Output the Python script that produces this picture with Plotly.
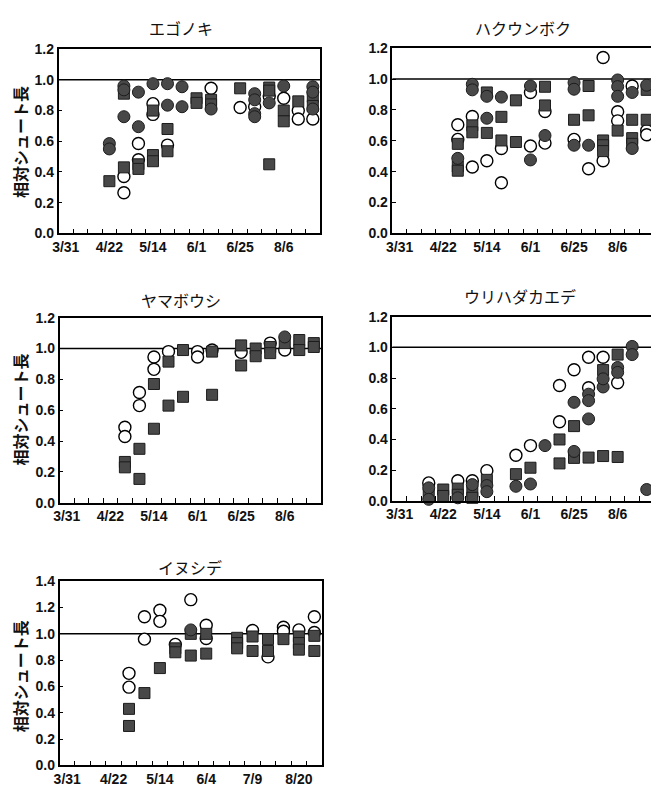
import plotly.graph_objects as go

W, H = 651, 795

# ---------------- data ----------------
Y_TITLE = "相対シュート長"

# x tick labels (positions are sampling-slot indices)
XLAB_SLOTS = [0, 3, 6, 9, 12, 15]
XLAB_A = ["3/31", "4/22", "5/14", "6/1", "6/25", "8/6"]
XLAB_B = ["3/31", "4/22", "5/14", "6/4", "7/9", "8/20"]

# エゴノキ
ego_fill_x = [3, 3, 4, 4, 4, 5, 5, 6, 7, 7, 8, 8, 10, 13, 13, 13, 13, 14, 15, 17, 17, 17]
ego_fill_y = [0.585, 0.55, 0.96, 0.935, 0.76, 0.92, 0.695, 0.975, 0.975, 0.835, 0.955, 0.825, 0.81,
              0.91, 0.87, 0.78, 0.76, 0.85, 0.96, 0.955, 0.92, 0.81]
ego_sq_x = [3, 4, 4, 5, 5, 6, 6, 6, 7, 7, 9, 9, 10, 10, 12, 14, 14, 14, 15, 15, 16, 17, 17]
ego_sq_y = [0.34, 0.91, 0.43, 0.45, 0.42, 0.80, 0.51, 0.47, 0.68, 0.535, 0.88, 0.85, 0.87, 0.84,
            0.945, 0.95, 0.93, 0.45, 0.80, 0.73, 0.86, 0.89, 0.83]
ego_open_x = [4, 4, 5, 5, 6, 6, 7, 10, 12, 13, 14, 15, 16, 16, 17]
ego_open_y = [0.37, 0.265, 0.585, 0.48, 0.845, 0.775, 0.575, 0.945, 0.82, 0.825, 0.895, 0.88,
              0.80, 0.745, 0.745]

# ハクウンボク
hak_fill_x = [4, 5, 5, 6, 6, 7, 9, 9, 10, 12, 12, 12, 13, 15, 15, 15, 16, 16, 17]
hak_fill_y = [0.486, 0.966, 0.93, 0.888, 0.746, 0.883, 0.955, 0.476, 0.634, 0.977, 0.934, 0.571,
              0.571, 0.994, 0.951, 0.888, 0.913, 0.55, 0.96]
hak_sq_x = [4, 4, 4, 5, 5, 6, 6, 7, 7, 8, 8, 10, 10, 12, 13, 13, 14, 14, 14, 15, 16, 16, 16, 17, 17]
hak_sq_y = [0.58, 0.433, 0.406, 0.70, 0.655, 0.913, 0.651, 0.755, 0.602, 0.862, 0.592, 0.95, 0.829,
            0.736, 0.955, 0.765, 0.602, 0.571, 0.533, 0.666, 0.736, 0.617, 0.58, 0.93, 0.736]
hak_open_x = [4, 4, 5, 5, 6, 7, 7, 9, 9, 10, 10, 12, 13, 14, 14, 15, 15, 16, 17, 17]
hak_open_y = [0.704, 0.609, 0.757, 0.43, 0.471, 0.55, 0.328, 0.913, 0.566, 0.79, 0.585, 0.609,
              0.419, 1.14, 0.471, 0.788, 0.729, 0.955, 0.666, 0.639]

# ヤマボウシ
yam_fill_x = [15]
yam_fill_y = [1.075]
yam_sq_x = [4, 4, 5, 5, 6, 6, 7, 7, 8, 8, 10, 10, 12, 12, 13, 13, 14, 14, 15, 16, 16, 17, 17]
yam_sq_y = [0.265, 0.23, 0.35, 0.155, 0.77, 0.48, 0.915, 0.63, 0.99, 0.687, 0.98, 0.70, 1.02, 0.89,
            1.0, 0.95, 1.01, 0.97, 1.035, 1.055, 0.99, 1.035, 1.01]
yam_open_x = [4, 4, 5, 5, 6, 6, 7, 9, 9, 10, 12, 14, 15]
yam_open_y = [0.49, 0.43, 0.715, 0.63, 0.945, 0.865, 0.98, 0.98, 0.945, 0.99, 0.975, 1.035, 0.99]

# ウリハダカエデ
uri_fill_x = [2, 2, 4, 5, 6, 6, 8, 9, 10, 12, 12, 13, 13, 13, 14, 14, 15, 15, 16, 16, 17]
uri_fill_y = [0.085, 0.01, 0.02, 0.106, 0.10, 0.06, 0.095, 0.11, 0.36, 0.642, 0.322, 0.695, 0.653,
              0.534, 0.742, 0.795, 0.869, 0.837, 1.006, 0.953, 0.074]
uri_sq_x = [2, 3, 3, 4, 4, 5, 5, 6, 8, 9, 11, 11, 12, 12, 12, 13, 14, 14, 15, 15]
uri_sq_y = [0.042, 0.074, 0.032, 0.08, 0.04, 0.06, 0.02, 0.137, 0.174, 0.216, 0.40, 0.244, 0.487,
            0.297, 0.28, 0.282, 0.852, 0.292, 0.953, 0.286]
uri_open_x = [2, 4, 5, 6, 8, 9, 11, 11, 12, 13, 13, 14, 15]
uri_open_y = [0.117, 0.131, 0.131, 0.197, 0.297, 0.36, 0.752, 0.515, 0.854, 0.936, 0.737, 0.936,
              0.769]

# イヌシデ
inu_fill_x = [8]
inu_fill_y = [1.03]
inu_sq_x = [4, 4, 5, 6, 7, 7, 8, 8, 9, 9, 11, 11, 11, 12, 12, 13, 13, 14, 15, 15, 15, 16, 16]
inu_sq_y = [0.43, 0.30, 0.55, 0.74, 0.89, 0.86, 1.0, 0.835, 1.0, 0.85, 0.97, 0.93, 0.89, 0.98, 0.87,
            0.96, 0.87, 0.96, 0.98, 0.93, 0.88, 0.985, 0.87]
inu_open_x = [4, 4, 5, 5, 6, 6, 7, 8, 9, 9, 12, 13, 14, 14, 15, 16, 16]
inu_open_y = [0.70, 0.595, 1.13, 0.96, 1.18, 1.095, 0.92, 1.26, 1.065, 0.965, 1.025, 0.825, 1.05,
              1.02, 1.03, 1.13, 1.01]

# ---------------- layout geometry (pixels) ----------------
panels = [
    dict(name="エゴノキ", d=(ego_open_x, ego_open_y, ego_sq_x, ego_sq_y, ego_fill_x, ego_fill_y),
         px=(53, 317), py=(42, 230), n=18, xl=XLAB_A, ymax=1.2, right=True, tx=177, ty=20, ytl=137),
    dict(name="ハクウンボク", d=(hak_open_x, hak_open_y, hak_sq_x, hak_sq_y, hak_fill_x, hak_fill_y),
         px=(390, 654), py=(41, 230), n=18, xl=XLAB_A, ymax=1.2, right=False, tx=522, ty=20, ytl=None),
    dict(name="ヤマボウシ", d=(yam_open_x, yam_open_y, yam_sq_x, yam_sq_y, yam_fill_x, yam_fill_y),
         px=(54, 318), py=(316, 505), n=18, xl=XLAB_A, ymax=1.2, right=True, tx=177, ty=298, ytl=410),
    dict(name="ウリハダカエデ", d=(uri_open_x, uri_open_y, uri_sq_x, uri_sq_y, uri_fill_x, uri_fill_y),
         px=(390, 654), py=(315, 503), n=18, xl=XLAB_A, ymax=1.2, right=False, tx=519, ty=294, ytl=None),
    dict(name="イヌシデ", d=(inu_open_x, inu_open_y, inu_sq_x, inu_sq_y, inu_fill_x, inu_fill_y),
         px=(54, 319), py=(585, 773), n=17, xl=XLAB_B, ymax=1.4, right=True, tx=186, ty=570, ytl=682),
]

DARK = "#484848"
EDGE = "#1c1c1c"
TICKFONT = dict(family="Liberation Sans, Arial, sans-serif", size=14, color="#111", weight="bold")
JPFONT = "Noto Sans CJK JP, sans-serif"

fig = go.Figure()
layout = dict(width=W, height=H, margin=dict(l=0, r=0, t=0, b=0),
              paper_bgcolor="white", plot_bgcolor="white", showlegend=False)
shapes, annotations = [], []

for i, p in enumerate(panels, start=1):
    sfx = "" if i == 1 else str(i)
    xa, ya = "x" + sfx, "y" + sfx
    ox, oy, sx, sy, fx, fy = p["d"]
    common = dict(xaxis=xa, yaxis=ya, mode="markers", cliponaxis=False, hoverinfo="skip")
    fig.add_trace(go.Scatter(x=ox, y=oy, marker=dict(symbol="circle", size=12, color="white",
                                                     line=dict(color="black", width=1.4)), **common))
    fig.add_trace(go.Scatter(x=sx, y=sy, marker=dict(symbol="square", size=11, color=DARK,
                                                     line=dict(color=EDGE, width=1)), **common))
    fig.add_trace(go.Scatter(x=fx, y=fy, marker=dict(symbol="circle", size=12, color=DARK,
                                                     line=dict(color=EDGE, width=1)), **common))

    x0p, x1p = p["px"]
    n = p["n"]
    slotw = (x1p - x0p) / n
    x1c = min(x1p, W)
    rng_hi = -0.5 + (x1c - x0p) / slotw
    ydom = [1 - p["py"][1] / H, 1 - p["py"][0] / H]
    layout["xaxis" + sfx] = dict(
        domain=[x0p / W, x1c / W], range=[-0.5, rng_hi], anchor=ya,
        showline=True, linecolor="black", linewidth=1.5, mirror=True,
        tickmode="array", tickvals=XLAB_SLOTS, ticktext=p["xl"], ticks="",
        showgrid=False, zeroline=False, tickfont=TICKFONT, fixedrange=True,
        minor=dict(tickmode="array", tickvals=[k + 0.5 for k in range(n - 1)],
                   ticks="inside", ticklen=5, tickwidth=1, tickcolor="black", showgrid=False),
    )
    yt = [round(0.2 * k, 1) for k in range(int(round(p["ymax"] / 0.2)) + 1)]
    layout["yaxis" + sfx] = dict(
        domain=ydom, range=[0, p["ymax"]], anchor=xa,
        showline=True, linecolor="black", linewidth=1.5, mirror=p["right"],
        tickmode="array", tickvals=yt, ticktext=[f"{v:.1f}" for v in yt],
        ticks="inside", ticklen=4, tickwidth=1, tickcolor="black",
        showgrid=False, zeroline=False, tickfont=TICKFONT, fixedrange=True,
    )
    shapes.append(dict(type="line", xref=xa + " domain", yref=ya, x0=0, x1=1, y0=1.0, y1=1.0,
                       line=dict(color="black", width=1.5), layer="below"))
    annotations.append(dict(text=p["name"], xref="paper", yref="paper", x=p["tx"] / W,
                            y=1 - p["ty"] / H, showarrow=False, xanchor="center", yanchor="middle",
                            font=dict(family=JPFONT, size=16, color="#111")))
    if p["ytl"] is not None:
        annotations.append(dict(text=Y_TITLE, xref="paper", yref="paper", x=14 / W,
                                y=1 - p["ytl"] / H, showarrow=False, textangle=-90,
                                xanchor="center", yanchor="middle",
                                font=dict(family=JPFONT, size=16, color="#111", weight="bold")))

layout["shapes"] = shapes
layout["annotations"] = annotations
fig.update_layout(**layout)
fig.write_html("out.html", config={"displayModeBar": False},
               post_script="document.body.style.margin='0';document.body.style.padding='0';")
